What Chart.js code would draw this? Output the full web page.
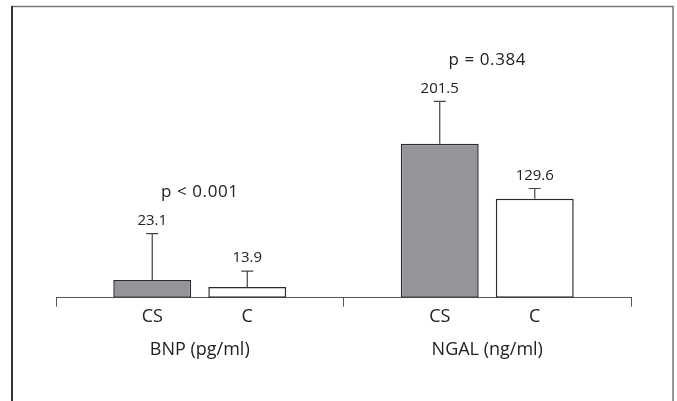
<!DOCTYPE html>
<html>
<head>
<meta charset="utf-8">
<script src="https://cdn.jsdelivr.net/npm/chart.js@4.4.1/dist/chart.umd.min.js"></script>
<style>
  html, body { margin: 0; padding: 0; background: #fff; }
  #wrap { width: 677px; height: 401px; position: relative; }
</style>
</head>
<body>
<div id="wrap"><canvas id="bar-canvas" width="677" height="401"></canvas></div>
<script>
// groups and series
const groups = ['BNP (pg/ml)', 'NGAL (ng/ml)'];
const seriesNames = ['CS', 'C'];
const csMean = [23.1, 201.5];
const csSd = [60.9, 55.6];
const cMean = [13.9, 129.6];
const cSd = [21.0, 13.4];
const pValues = ['p < 0.001', 'p = 0.384'];

const textColor = '#222';
const fontFamily = '"Open Sans", "Noto Sans", sans-serif';

// box around the figure
const frame = {
    id: 'frame',
    beforeDraw(chart) {
        let ctx = chart.ctx;
        ctx.save();
        ctx.strokeStyle = '#777';
        ctx.lineWidth = 1.5;
        ctx.beginPath();
        ctx.moveTo(12, 420);
        ctx.lineTo(12, 6.5);
        ctx.lineTo(673, 6.5);
        ctx.lineTo(673, 420);
        ctx.stroke();
        ctx.strokeStyle = '#333';
        ctx.lineWidth = 2;
        ctx.beginPath();
        ctx.moveTo(12, 6);
        ctx.lineTo(12, 420);
        ctx.stroke();
        ctx.restore();
    }
};

// error bars, value labels, CS / C labels and p values
const annotate = {
    id: 'annotate',
    afterDraw(chart) {
        let ctx = chart.ctx;
        let yScale = chart.scales.y;
        let area = chart.chartArea;
        let groupTop = [Infinity, Infinity];
        ctx.save();
        chart.data.datasets.forEach(function(ds, di) {
            let meta = chart.getDatasetMeta(di);
            meta.data.forEach(function(bar, i) {
                let top = yScale.getPixelForValue(ds.data[i] + ds.sd[i]);
                ctx.strokeStyle = '#444';
                ctx.lineWidth = 1.2;
                ctx.beginPath();
                ctx.moveTo(bar.x, bar.y);
                ctx.lineTo(bar.x, top);
                ctx.moveTo(bar.x - 6, top);
                ctx.lineTo(bar.x + 6, top);
                ctx.stroke();

                ctx.fillStyle = textColor;
                ctx.textAlign = 'center';
                ctx.textBaseline = 'middle';
                ctx.font = '15px ' + fontFamily;
                ctx.fillText(ds.data[i].toFixed(1), bar.x, top - 13);
                groupTop[i] = Math.min(groupTop[i], top - 13);

                ctx.font = '18px ' + fontFamily;
                ctx.fillText(ds.label, bar.x, area.bottom + 19.5);
            });
        });
        let xScale = chart.scales.x;
        ctx.font = '17px ' + fontFamily;
        ctx.letterSpacing = '0.6px';
        pValues.forEach(function(p, i) {
            ctx.fillText(p, xScale.getPixelForValue(i), groupTop[i] - 28);
        });
        ctx.restore();
    }
};

let ctx = document.getElementById('bar-canvas').getContext('2d');
let chart = new Chart(ctx, {
    type: 'bar',
    data: {
        labels: groups,
        datasets: [{
            label: seriesNames[0],
            data: csMean,
            sd: csSd,
            backgroundColor: '#939598',
            borderColor: '#2b2b2b',
            borderWidth: 1.5,
            borderSkipped: false
        }, {
            label: seriesNames[1],
            data: cMean,
            sd: cSd,
            backgroundColor: '#ffffff',
            borderColor: '#2b2b2b',
            borderWidth: 1.5,
            borderSkipped: false
        }]
    },
    options: {
        responsive: false,
        animation: false,
        categoryPercentage: 0.661,
        barPercentage: 0.82,
        layout: {
            padding: { left: 56, right: 46, top: 68.6, bottom: 8.7 }
        },
        plugins: {
            legend: { display: false },
            tooltip: { enabled: false }
        },
        scales: {
            x: {
                grid: {
                    display: true,
                    offset: true,
                    drawOnChartArea: false,
                    drawTicks: true,
                    tickLength: 9,
                    color: '#555'
                },
                border: { display: true, color: '#555', width: 1 },
                ticks: {
                    color: textColor,
                    padding: 32,
                    font: { family: fontFamily, size: 18 }
                }
            },
            y: {
                display: false,
                min: 0,
                max: 300
            }
        }
    },
    plugins: [frame, annotate]
});
</script>
</body>
</html>
